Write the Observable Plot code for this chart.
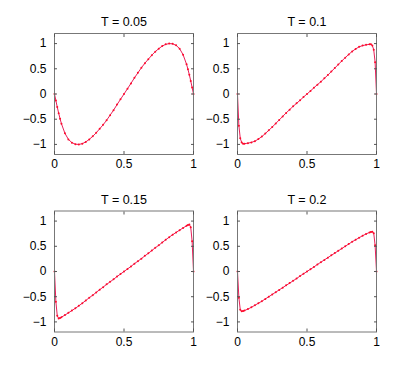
<!DOCTYPE html>
<html><head><meta charset="utf-8">
<script src="https://cdn.jsdelivr.net/npm/d3@7"></script>
<script src="https://cdn.jsdelivr.net/npm/@observablehq/plot@0.6"></script>
<style>
body{margin:0;background:#fff;}
#fig{position:relative;width:415px;height:372px;font-family:"Liberation Sans",Arial,sans-serif;background:#fff;}
#fig > svg{position:absolute;}
</style></head><body><div id="fig"></div>
<script>
const xs = [0,0.01,0.02,0.03,0.04,0.05,0.075,0.1,0.125,0.15,0.175,0.2,0.225,0.25,0.275,0.3,0.325,0.35,0.375,0.4,0.425,0.45,0.475,0.5,0.525,0.55,0.575,0.6,0.625,0.65,0.675,0.7,0.725,0.75,0.775,0.8,0.825,0.85,0.875,0.9,0.925,0.95,0.96,0.97,0.98,0.99,1];
const u005 = [0,-0.13,-0.26,-0.38,-0.49,-0.59,-0.78,-0.90,-0.965,-0.995,-1.0,-0.985,-0.95,-0.90,-0.84,-0.77,-0.69,-0.61,-0.52,-0.42,-0.32,-0.21,-0.105,0,
  0.105,0.21,0.32,0.42,0.52,0.61,0.69,0.77,0.84,0.90,0.95,0.985,1.0,0.995,0.965,0.90,0.78,0.59,0.49,0.38,0.26,0.13,0];
const u010 = [0,-0.63,-0.88,-0.96,-0.985,-0.985,-0.975,-0.96,-0.935,-0.895,-0.845,-0.785,-0.72,-0.655,-0.585,-0.515,-0.445,-0.375,-0.31,-0.245,-0.185,-0.125,-0.06,0,
  0.06,0.125,0.185,0.245,0.31,0.375,0.445,0.515,0.585,0.655,0.72,0.785,0.845,0.895,0.935,0.96,0.975,0.985,0.985,0.96,0.88,0.63,0];
const u015 = [0,-0.60,-0.88,-0.93,-0.92,-0.905,-0.865,-0.82,-0.775,-0.73,-0.68,-0.63,-0.575,-0.52,-0.47,-0.415,-0.36,-0.31,-0.255,-0.205,-0.155,-0.10,-0.05,0,
  0.05,0.10,0.155,0.205,0.255,0.31,0.36,0.415,0.47,0.52,0.575,0.63,0.68,0.73,0.775,0.82,0.865,0.905,0.92,0.93,0.88,0.60,0];
const u020 = [0,-0.52,-0.76,-0.79,-0.785,-0.775,-0.745,-0.71,-0.67,-0.63,-0.59,-0.545,-0.50,-0.455,-0.41,-0.365,-0.32,-0.275,-0.23,-0.185,-0.14,-0.09,-0.045,0,
  0.045,0.09,0.14,0.185,0.23,0.275,0.32,0.365,0.41,0.455,0.50,0.545,0.59,0.63,0.67,0.71,0.745,0.775,0.785,0.79,0.76,0.52,0];
const titles = ["T = 0.05","T = 0.1","T = 0.15","T = 0.2"];
const xTicks = [0,0.5,1];
const xTickLabels = ["0","0.5","1"];
const yTicks = [-1,-0.5,0,0.5,1];
const yTickLabels = ["\u22121","\u22120.5","0","0.5","1"];

const series = [u005,u010,u015,u020];
const layout = [
  {left:0,   top:0,   width:207, height:180, ml:54, mr:14, mt:33,   mb:26},
  {left:207, top:0,   width:208, height:180, ml:30, mr:39, mt:33,   mb:26},
  {left:0,   top:180, width:207, height:192, ml:54, mr:14, mt:30.5, mb:40.5},
  {left:207, top:180, width:208, height:192, ml:30, mr:39, mt:30.5, mb:40.5}
];
const fig = document.getElementById("fig");
const fmtX = d => xTickLabels[xTicks.indexOf(d)];
const fmtY = d => yTickLabels[yTicks.indexOf(d)];
layout.forEach((L, k) => {
  const data = xs.map((x, i) => ({x, u: series[k][i]}));
  const svg = Plot.plot({
    width: L.width, height: L.height,
    marginLeft: L.ml, marginRight: L.mr, marginTop: L.mt, marginBottom: L.mb,
    style: {fontFamily: '"Liberation Sans", Arial, sans-serif', fontSize: "12px", color: "#000", background: "#fff", overflow: "visible"},
    x: {domain: [0, 1], label: null},
    y: {domain: [-1.2, 1.2], label: null},
    marks: [
      Plot.line(data, {x: "x", y: "u", stroke: "#e8205a", strokeWidth: 1}),
      Plot.dot(data, {x: "x", y: "u", r: 1, fill: "#ff0a2a", stroke: "none"}),
      Plot.frame({stroke: "#777", strokeWidth: 1}),
      Plot.axisX(xTicks, {anchor: "bottom", tickSize: -3, tickPadding: 8, tickFormat: fmtX, stroke: "#555", fill: "#000", fontSize: 12, label: null}),
      Plot.axisX(xTicks, {anchor: "top", tickSize: -3, tickFormat: () => "", stroke: "#555", label: null}),
      Plot.axisY(yTicks, {anchor: "left", tickSize: -3, tickPadding: 11, tickFormat: fmtY, stroke: "#555", fill: "#000", fontSize: 12, label: null}),
      Plot.axisY(yTicks, {anchor: "right", tickSize: -3, tickFormat: () => "", stroke: "#555", label: null}),
      Plot.text([titles[k]], {frameAnchor: "top", dy: -16, text: d => d, fontSize: 12.5, fill: "#000"})
    ]
  });
  svg.style.left = L.left + "px";
  svg.style.top = L.top + "px";
  fig.appendChild(svg);
});
</script></body></html>
